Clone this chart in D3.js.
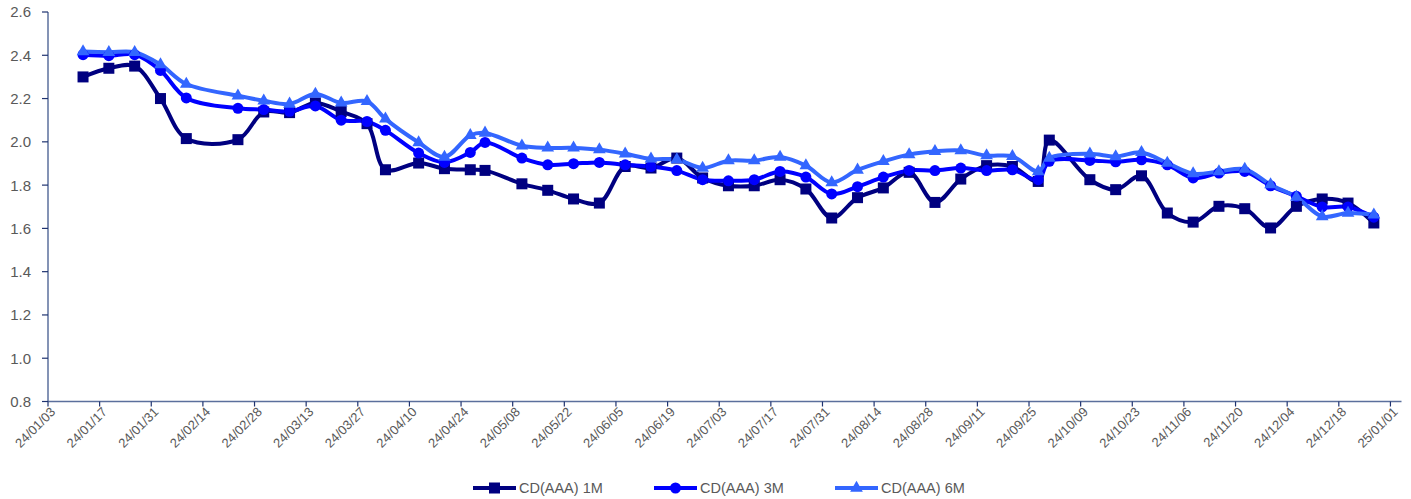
<!DOCTYPE html>
<html>
<head>
<meta charset="utf-8">
<script src="https://cdn.jsdelivr.net/npm/d3@7"></script>
<style>
  html, body { margin: 0; padding: 0; background: #fff; }
  svg { display: block; font-family: "Liberation Sans", Arial, sans-serif; }
</style>
</head>
<body>
<svg id="chart" width="1411" height="499"></svg>
<script>
// Weekly observation dates
const dates = [
  "2024-01-12","2024-01-19","2024-01-26","2024-02-02","2024-02-09","2024-02-23",
  "2024-03-01","2024-03-08","2024-03-15","2024-03-22","2024-03-29","2024-04-03",
  "2024-04-12","2024-04-19","2024-04-26","2024-04-30","2024-05-10","2024-05-17",
  "2024-05-24","2024-05-31","2024-06-07","2024-06-14","2024-06-21","2024-06-28",
  "2024-07-05","2024-07-12","2024-07-19","2024-07-26","2024-08-02","2024-08-09",
  "2024-08-16","2024-08-23","2024-08-30","2024-09-06","2024-09-13","2024-09-20",
  "2024-09-27","2024-09-30","2024-10-11","2024-10-18","2024-10-25","2024-11-01",
  "2024-11-08","2024-11-15","2024-11-22","2024-11-29","2024-12-06","2024-12-13",
  "2024-12-20","2024-12-27"
];

// CD (AAA) yields, %
const cd1M = [
  2.30, 2.34, 2.35, 2.20, 2.015, 2.01, 2.138, 2.135, 2.18, 2.14,
  2.084, 1.871, 1.902, 1.876, 1.871, 1.868, 1.806, 1.776, 1.736, 1.717,
  1.886, 1.879, 1.925, 1.833, 1.797, 1.797, 1.825, 1.782, 1.648, 1.742,
  1.787, 1.859, 1.72, 1.828, 1.89, 1.886, 1.817, 2.008, 1.825, 1.779,
  1.843, 1.671, 1.629, 1.702, 1.691, 1.602, 1.702, 1.736, 1.717, 1.625
];
const cd3M = [
  2.403, 2.398, 2.403, 2.33, 2.203, 2.155, 2.149, 2.141, 2.166, 2.10,
  2.094, 2.053, 1.948, 1.905, 1.951, 1.997, 1.925, 1.894, 1.899, 1.905,
  1.894, 1.886, 1.867, 1.825, 1.82, 1.825, 1.863, 1.837, 1.759, 1.793,
  1.837, 1.868, 1.867, 1.879, 1.867, 1.871, 1.825, 1.91, 1.914, 1.908,
  1.917, 1.894, 1.833, 1.856, 1.863, 1.797, 1.748, 1.699, 1.699, 1.652
];
const cd6M = [
  2.417, 2.414, 2.414, 2.357, 2.267, 2.213, 2.19, 2.175, 2.221, 2.18,
  2.187, 2.106, 1.997, 1.93, 2.03, 2.041, 1.982, 1.972, 1.972, 1.964,
  1.945, 1.921, 1.918, 1.879, 1.913, 1.913, 1.93, 1.89, 1.812, 1.87,
  1.91, 1.941, 1.956, 1.96, 1.936, 1.933, 1.863, 1.925, 1.945, 1.932,
  1.951, 1.902, 1.853, 1.863, 1.874, 1.802, 1.745, 1.655, 1.671, 1.663
];

const seriesNames = ["CD(AAA) 1M", "CD(AAA) 3M", "CD(AAA) 6M"];
const yTicks = [0.8, 1.0, 1.2, 1.4, 1.6, 1.8, 2.0, 2.2, 2.4, 2.6];

(function () {
  const series = [
    { name: seriesNames[0], values: cd1M, color: "#000080", marker: "square" },
    { name: seriesNames[1], values: cd3M, color: "#0000FF", marker: "circle" },
    { name: seriesNames[2], values: cd6M, color: "#3366FF", marker: "triangle" }
  ];

  const parse = d3.utcParse("%Y-%m-%d");
  const fmtX = d3.utcFormat("%y/%m/%d");

  const svg = d3.select("#chart");
  const plotLeft = 48, plotRight = 1401.5, plotTop = 12, plotBottom = 401.5;

  const x = d3.scaleUtc()
    .domain([parse("2024-01-03"), parse("2025-01-04")])
    .range([plotLeft, plotRight]);
  const y = d3.scaleLinear().domain([0.8, 2.6]).range([plotBottom, plotTop]);
  // each observation sits in the middle of its day slot
  const xDay = d => x(d3.utcHour.offset(d, 12));

  const axisLine = "#5b6f9c";
  const tickCol = "#1f3370";
  const labelCol = "#595959";

  // Y axis
  const yAxis = svg.append("g");
  yAxis.append("line")
    .attr("x1", plotLeft).attr("x2", plotLeft).attr("y1", plotTop).attr("y2", plotBottom)
    .attr("stroke", axisLine).attr("stroke-width", 1.5);
  yAxis.selectAll(".yt").data(yTicks).join("line")
    .attr("x1", plotLeft - 6).attr("x2", plotLeft)
    .attr("y1", d => y(d)).attr("y2", d => y(d))
    .attr("stroke", tickCol).attr("stroke-width", 1.2);
  yAxis.selectAll(".yl").data(yTicks).join("text")
    .attr("x", plotLeft - 17).attr("y", d => y(d))
    .attr("dy", "0.36em")
    .attr("text-anchor", "end")
    .attr("font-size", 15).attr("fill", labelCol)
    .text(d => d3.format(".1f")(d));

  // X axis: a tick every 14 days
  const xTickDates = [];
  for (let t = parse("2024-01-03"); t <= parse("2025-01-01"); t = d3.utcDay.offset(t, 14)) xTickDates.push(t);

  const xAxis = svg.append("g");
  xAxis.append("line")
    .attr("x1", plotLeft).attr("x2", plotRight).attr("y1", plotBottom).attr("y2", plotBottom)
    .attr("stroke", axisLine).attr("stroke-width", 1.5);
  xAxis.selectAll(".xt").data(xTickDates).join("line")
    .attr("x1", d => x(d)).attr("x2", d => x(d))
    .attr("y1", plotBottom).attr("y2", plotBottom + 5)
    .attr("stroke", tickCol).attr("stroke-width", 1.2);
  xAxis.selectAll(".xl").data(xTickDates).join("text")
    .attr("transform", d => `translate(${x(d) + 5},${plotBottom + 8}) rotate(-45)`)
    .attr("text-anchor", "end")
    .attr("dy", "0.35em")
    .attr("font-size", 13).attr("fill", labelCol)
    .text(d => fmtX(d));

  // Lines
  const lineGen = d3.line()
    .x(d => xDay(d.date)).y(d => y(d.value))
    .curve(d3.curveCatmullRom.alpha(0.5));

  series.forEach(s => {
    s.points = dates.map((d, i) => ({ date: parse(d), value: s.values[i] }));
  });

  const linesG = svg.append("g");
  series.forEach(s => {
    linesG.append("path")
      .datum(s.points)
      .attr("d", lineGen)
      .attr("fill", "none")
      .attr("stroke", s.color)
      .attr("stroke-width", 4)
      .attr("stroke-linejoin", "round")
      .attr("stroke-linecap", "round");
  });

  // Markers
  function drawMarker(g, type, color, cx, cy) {
    if (type === "square") {
      g.append("rect").attr("x", cx - 5.5).attr("y", cy - 5.5)
        .attr("width", 11).attr("height", 11).attr("fill", color);
    } else if (type === "circle") {
      g.append("circle").attr("cx", cx).attr("cy", cy).attr("r", 5.5).attr("fill", color);
    } else {
      g.append("path")
        .attr("d", d3.symbol(d3.symbolTriangle, 70)())
        .attr("transform", `translate(${cx},${cy})`)
        .attr("fill", color);
    }
  }

  const markersG = svg.append("g");
  series.forEach(s => {
    const g = markersG.append("g");
    s.points.forEach(p => drawMarker(g, s.marker, s.color, xDay(p.date), y(p.value)));
  });

  // Legend
  const legendY = 488;
  const legendX = [473, 654, 835];
  const legend = svg.append("g");
  series.forEach((s, i) => {
    const g = legend.append("g");
    const x0 = legendX[i];
    g.append("line")
      .attr("x1", x0).attr("x2", x0 + 43)
      .attr("y1", legendY).attr("y2", legendY)
      .attr("stroke", s.color).attr("stroke-width", 4);
    drawMarker(g, s.marker, s.color, x0 + 21.5, legendY);
    g.append("text")
      .attr("x", x0 + 46).attr("y", legendY)
      .attr("dy", "0.36em")
      .attr("font-size", 14.5).attr("fill", labelCol)
      .text(s.name);
  });
})();
</script>
</body>
</html>
